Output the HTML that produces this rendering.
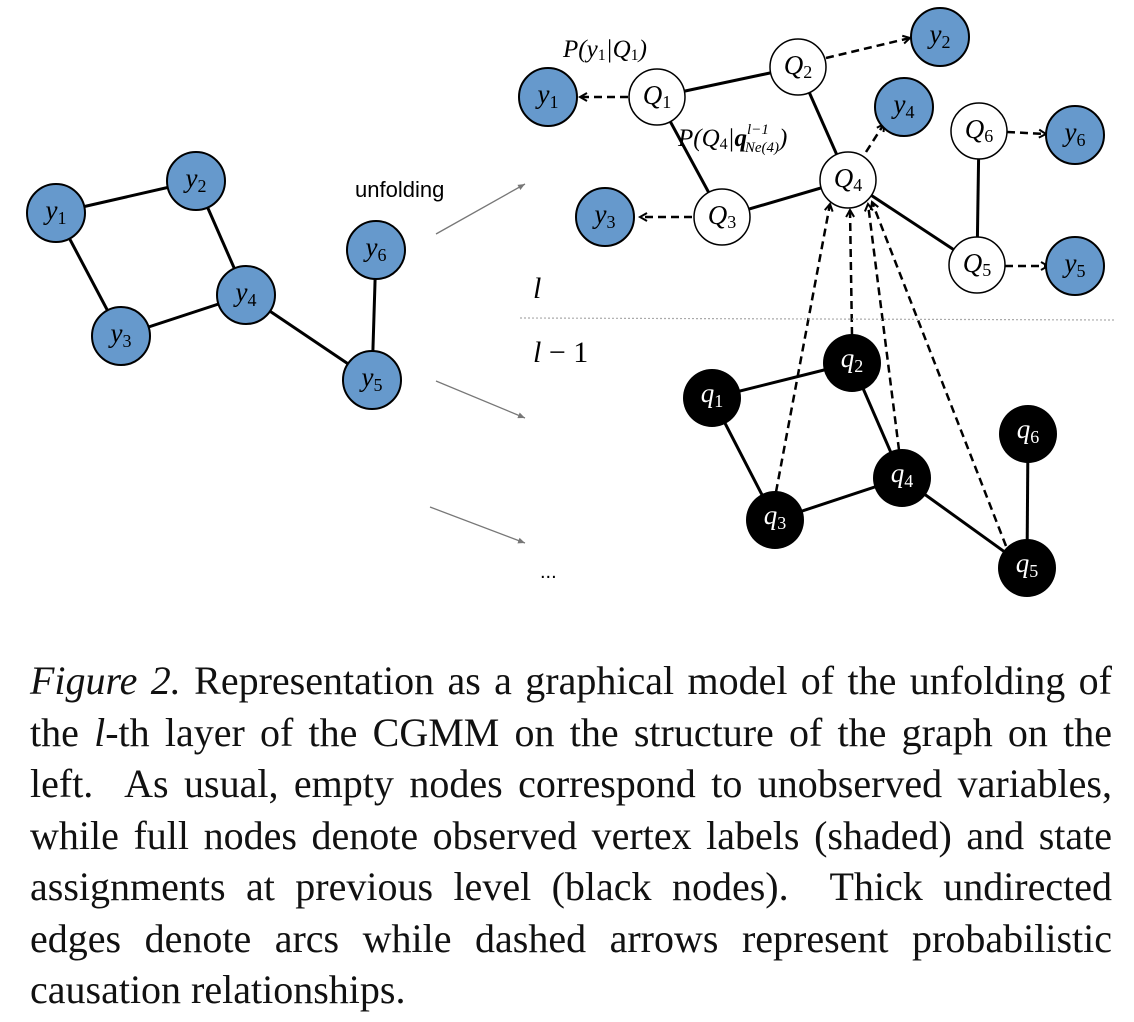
<!DOCTYPE html>
<html><head><meta charset="utf-8"><style>
body{margin:0;background:#fff;width:1134px;height:1022px;overflow:hidden;position:relative}
svg{position:absolute;left:0;top:0}
.cap{position:absolute;left:30px;width:1082px;top:655px;font-family:"Liberation Serif",serif;font-size:40px;line-height:51.5px;color:#111}
.cap div{text-align:justify;text-align-last:justify;white-space:nowrap}
.cap div.last{text-align-last:left}
</style></head><body>
<svg width="1134" height="640" viewBox="0 0 1134 640" font-family="Liberation Serif, serif" font-style="italic">
<defs>
<marker id="ah" markerWidth="10" markerHeight="10" refX="8" refY="5" orient="auto" markerUnits="userSpaceOnUse"><path d="M1,1 L8,5 L1,9" fill="none" stroke="#000" stroke-width="2"/></marker>
<marker id="ga" markerWidth="8" markerHeight="8" refX="7" refY="4" orient="auto" markerUnits="userSpaceOnUse"><path d="M0,1 L7,4 L0,7z" fill="#777"/></marker>
</defs>
<g stroke="#000" stroke-width="3">
<line x1="56" y1="213" x2="196" y2="181"/><line x1="56" y1="213" x2="121" y2="336"/><line x1="196" y1="181" x2="246" y2="295"/><line x1="121" y1="336" x2="246" y2="295"/><line x1="246" y1="295" x2="372" y2="380"/><line x1="376" y1="250" x2="372" y2="380"/>
<line x1="657" y1="97" x2="798" y2="67"/><line x1="657" y1="97" x2="722" y2="217"/><line x1="798" y1="67" x2="848" y2="180"/><line x1="722" y1="217" x2="848" y2="180"/><line x1="848" y1="180" x2="977" y2="265"/><line x1="979" y1="131" x2="977" y2="265"/>
<line x1="712" y1="398" x2="852" y2="363"/><line x1="712" y1="398" x2="775" y2="520"/><line x1="852" y1="363" x2="902" y2="478"/><line x1="775" y1="520" x2="902" y2="478"/><line x1="902" y1="478" x2="1027" y2="568"/><line x1="1028" y1="434" x2="1027" y2="568"/>
</g>
<g stroke="#000" stroke-width="2.5" stroke-dasharray="8,5" marker-end="url(#ah)" fill="none">
<line x1="628" y1="97" x2="580" y2="97"/><line x1="826" y1="58" x2="910" y2="38"/><line x1="866" y1="152" x2="884" y2="124"/><line x1="692" y1="217" x2="640" y2="217"/><line x1="1007" y1="132" x2="1046" y2="134"/><line x1="1005" y1="266" x2="1048" y2="266"/>
<line x1="776" y1="492" x2="830" y2="204"/><line x1="852" y1="335" x2="850" y2="210"/><line x1="899" y1="450" x2="868" y2="204"/><line x1="1006" y1="546" x2="872" y2="202"/>
</g>
<g stroke="#777" stroke-width="1.3" marker-end="url(#ga)">
<line x1="436" y1="234" x2="525" y2="184"/><line x1="436" y1="381" x2="525" y2="418"/><line x1="430" y1="507" x2="525" y2="543"/>
</g>
<line x1="520" y1="318" x2="1115" y2="320" stroke="#aaa" stroke-width="1.2" stroke-dasharray="2,2"/>
<g stroke="#000" stroke-width="2" fill="#6699cc">
<circle cx="56" cy="213" r="29"/><circle cx="196" cy="181" r="29"/><circle cx="246" cy="295" r="29"/><circle cx="121" cy="336" r="29"/><circle cx="376" cy="250" r="29"/><circle cx="372" cy="380" r="29"/>
<circle cx="548" cy="97" r="29"/><circle cx="940" cy="37" r="29"/><circle cx="904" cy="107" r="29"/><circle cx="605" cy="217" r="29"/><circle cx="1075" cy="135" r="29"/><circle cx="1075" cy="266" r="29"/>
</g>
<g stroke="#000" stroke-width="1.5" fill="#fff">
<circle cx="657" cy="97" r="28"/><circle cx="798" cy="67" r="28"/><circle cx="848" cy="180" r="28"/><circle cx="722" cy="217" r="28"/><circle cx="979" cy="131" r="28"/><circle cx="977" cy="265" r="28"/>
</g>
<g fill="#000">
<circle cx="712" cy="398" r="29"/><circle cx="852" cy="363" r="29"/><circle cx="902" cy="478" r="29"/><circle cx="775" cy="520" r="29"/><circle cx="1028" cy="434" r="29"/><circle cx="1027" cy="568" r="29"/>
</g>
<g font-size="27" text-anchor="middle" fill="#000">
<text x="56" y="219">y<tspan font-size="18" font-style="normal" dy="5">1</tspan></text>
<text x="196" y="187">y<tspan font-size="18" font-style="normal" dy="5">2</tspan></text>
<text x="246" y="301">y<tspan font-size="18" font-style="normal" dy="5">4</tspan></text>
<text x="121" y="342">y<tspan font-size="18" font-style="normal" dy="5">3</tspan></text>
<text x="376" y="256">y<tspan font-size="18" font-style="normal" dy="5">6</tspan></text>
<text x="372" y="386">y<tspan font-size="18" font-style="normal" dy="5">5</tspan></text>
<text x="548" y="103">y<tspan font-size="18" font-style="normal" dy="5">1</tspan></text>
<text x="940" y="43">y<tspan font-size="18" font-style="normal" dy="5">2</tspan></text>
<text x="904" y="113">y<tspan font-size="18" font-style="normal" dy="5">4</tspan></text>
<text x="605" y="223">y<tspan font-size="18" font-style="normal" dy="5">3</tspan></text>
<text x="1075" y="141">y<tspan font-size="18" font-style="normal" dy="5">6</tspan></text>
<text x="1075" y="272">y<tspan font-size="18" font-style="normal" dy="5">5</tspan></text>
<text x="657" y="104">Q<tspan font-size="18" font-style="normal" dy="4">1</tspan></text>
<text x="798" y="74">Q<tspan font-size="18" font-style="normal" dy="4">2</tspan></text>
<text x="848" y="187">Q<tspan font-size="18" font-style="normal" dy="4">4</tspan></text>
<text x="722" y="224">Q<tspan font-size="18" font-style="normal" dy="4">3</tspan></text>
<text x="979" y="138">Q<tspan font-size="18" font-style="normal" dy="4">6</tspan></text>
<text x="977" y="272">Q<tspan font-size="18" font-style="normal" dy="4">5</tspan></text>
</g>
<g font-size="27" text-anchor="middle" fill="#fff">
<text x="712" y="402">q<tspan font-size="18" font-style="normal" dy="5">1</tspan></text>
<text x="852" y="367">q<tspan font-size="18" font-style="normal" dy="5">2</tspan></text>
<text x="902" y="482">q<tspan font-size="18" font-style="normal" dy="5">4</tspan></text>
<text x="775" y="524">q<tspan font-size="18" font-style="normal" dy="5">3</tspan></text>
<text x="1028" y="438">q<tspan font-size="18" font-style="normal" dy="5">6</tspan></text>
<text x="1027" y="572">q<tspan font-size="18" font-style="normal" dy="5">5</tspan></text>
</g>
<text x="563" y="57" font-size="25">P(y<tspan font-size="16" font-style="normal" dy="3">1</tspan><tspan dy="-3">|Q</tspan><tspan font-size="16" font-style="normal" dy="3">1</tspan><tspan dy="-3">)</tspan></text>
<text x="678" y="146" font-size="25">P(Q<tspan font-size="16" font-style="normal" dy="3">4</tspan><tspan dy="-3">|</tspan><tspan font-weight="bold">q</tspan><tspan font-size="15" dy="-12">l−1</tspan><tspan font-size="15" dx="-24" dy="18">Ne(4)</tspan><tspan dy="-6">)</tspan></text>
<text x="355" y="197" font-size="22" font-style="normal" font-family="Liberation Sans, sans-serif">unfolding</text>
<text x="533" y="298" font-size="30">l</text>
<text x="533" y="362" font-size="30">l <tspan font-style="normal">− 1</tspan></text>
<text x="540" y="578" font-size="20" font-style="normal" font-family="Liberation Sans, sans-serif">...</text>
</svg>
<div class="cap">
<div><i>Figure 2.</i> Representation as a graphical model of the unfolding of</div>
<div>the <i>l</i>-th layer of the CGMM on the structure of the graph on the</div>
<div>left. &nbsp;As usual, empty nodes correspond to unobserved variables,</div>
<div>while full nodes denote observed vertex labels (shaded) and state</div>
<div>assignments at previous level (black nodes). &nbsp;Thick undirected</div>
<div>edges denote arcs while dashed arrows represent probabilistic</div>
<div class="last">causation relationships.</div>
</div>
</body></html>
